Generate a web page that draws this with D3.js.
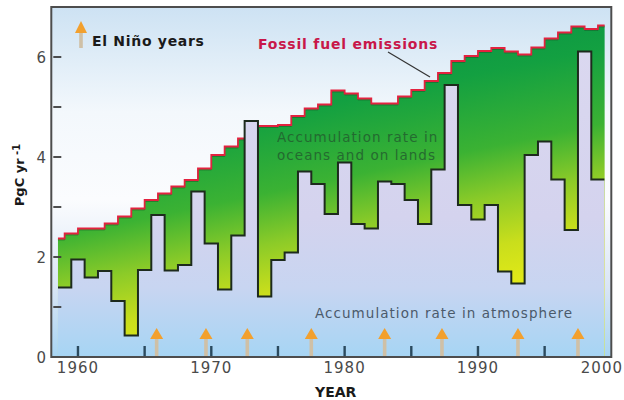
<!DOCTYPE html>
<html>
<head>
<meta charset="utf-8">
<script src="https://cdn.jsdelivr.net/npm/d3@7"></script>
<style>
  html, body { margin: 0; padding: 0; background: #ffffff; }
  svg { display: block; }
</style>
</head>
<body>
<div id="chart"></div>
<script>
// ---------------- DATA ----------------
const years = [1959,1960,1961,1962,1963,1964,1965,1966,1967,1968,1969,1970,1971,1972,1973,1974,1975,1976,1977,1978,1979,1980,1981,1982,1983,1984,1985,1986,1987,1988,1989,1990,1991,1992,1993,1994,1995,1996,1997,1998,1999];
const atmosphere = [1.39,1.95,1.59,1.72,1.12,0.43,1.74,2.84,1.73,1.84,3.31,2.27,1.35,2.43,4.72,1.21,1.94,2.09,3.71,3.46,2.86,3.89,2.66,2.57,3.51,3.46,3.14,2.66,3.75,5.44,3.04,2.75,3.04,1.71,1.47,4.04,4.31,3.55,2.54,6.11,3.55];

const fossilYears = [1958,1959,1960,1961,1962,1963,1964,1965,1966,1967,1968,1969,1970,1971,1972,1973,1974,1975,1976,1977,1978,1979,1980,1981,1982,1983,1984,1985,1986,1987,1988,1989,1990,1991,1992,1993,1994,1995,1996,1997,1998,1999];
const fossilFuel = [2.37,2.47,2.57,2.57,2.67,2.81,2.97,3.14,3.27,3.41,3.54,3.77,4.04,4.21,4.37,4.62,4.62,4.64,4.82,4.97,5.05,5.33,5.27,5.17,5.07,5.07,5.21,5.34,5.52,5.68,5.92,6.02,6.12,6.18,6.11,6.05,6.19,6.37,6.49,6.61,6.56,6.63];

const elNinoYears = [1965.9,1969.6,1972.7,1977.5,1983.0,1987.3,1993.0,1997.5];
const xTickLabels = [1960,1970,1980,1990,2000];
const xMinorTicks = [1960,1965,1970,1975,1980,1985,1990,1995];
const yTickLabels = [0,2,4,6];
const yMinorTicks = [1,2,3,4,5,6];

const texts = {
  legend: "El Niño years",
  fossil: "Fossil fuel emissions",
  oceans1: "Accumulation rate in",
  oceans2: "oceans and on lands",
  atmos: "Accumulation rate in atmosphere",
  xTitle: "YEAR",
  yTitle: "PgC yr",
  yTitleSup: " -1"
};

// ---------------- LAYOUT ----------------
const W = 624, H = 400;
const x = d3.scaleLinear().domain([1958, 2000]).range([51.3, 611.3]);
const y = d3.scaleLinear().domain([0, 7]).range([357, 7]);
const dataStart = years[0] - 0.5, dataEnd = years[years.length - 1] + 0.5;
const FONT = "'DejaVu Sans', Verdana, sans-serif";

const svg = d3.select("#chart").append("svg")
  .attr("width", W).attr("height", H)
  .attr("viewBox", `0 0 ${W} ${H}`);

const defs = svg.append("defs");

const bgGrad = defs.append("linearGradient").attr("id", "bgGrad")
  .attr("gradientUnits", "userSpaceOnUse")
  .attr("x1", 0).attr("y1", y(7)).attr("x2", 0).attr("y2", y(0));
[[0, "#cde2f3"], [0.3, "#f3f8fc"], [0.55, "#fbfcfe"], [0.8, "#d9e5f5"], [1, "#a8d5f3"]]
  .forEach(([o, c]) => bgGrad.append("stop").attr("offset", o).attr("stop-color", c));

const greenGrad = defs.append("linearGradient").attr("id", "greenGrad")
  .attr("gradientUnits", "userSpaceOnUse")
  .attr("x1", 300).attr("y1", 50).attr("x2", 360).attr("y2", 340);
[[0, "#0a9346"], [0.2, "#13a041"], [0.45, "#3bb233"], [0.62, "#8ccb28"], [0.78, "#c9de1c"], [1, "#f0f014"]]
  .forEach(([o, c]) => greenGrad.append("stop").attr("offset", o).attr("stop-color", c));

const atmGrad = defs.append("linearGradient").attr("id", "atmGrad")
  .attr("gradientUnits", "userSpaceOnUse")
  .attr("x1", 0).attr("y1", y(7)).attr("x2", 0).attr("y2", y(0));
[[0, "#dcd9f0"], [0.6, "#d4d3ee"], [0.8, "#c8d5f1"], [1, "#a6d5f4"]]
  .forEach(([o, c]) => atmGrad.append("stop").attr("offset", o).attr("stop-color", c));

defs.append("clipPath").attr("id", "dataClip")
  .append("rect")
  .attr("x", x(dataStart)).attr("y", 0)
  .attr("width", x(dataEnd) - x(dataStart)).attr("height", y(0));

// plot background
svg.append("rect")
  .attr("x", x(1958)).attr("y", y(7))
  .attr("width", x(2000) - x(1958)).attr("height", y(0) - y(7))
  .attr("fill", "url(#bgGrad)");

// ---------------- SERIES ----------------
const fossilPts = fossilYears.map((yr, i) => ({ t: yr, v: fossilFuel[i] }));
fossilPts.push({ t: fossilYears[fossilYears.length - 1] + 1, v: fossilFuel[fossilFuel.length - 1] });

const atmPts = years.map((yr, i) => ({ t: yr - 0.5, v: atmosphere[i] }));
atmPts.push({ t: years[years.length - 1] + 0.5, v: atmosphere[atmosphere.length - 1] });

const dataG = svg.append("g").attr("clip-path", "url(#dataClip)");

dataG.append("path")
  .datum(fossilPts)
  .attr("fill", "url(#greenGrad)")
  .attr("d", d3.area().curve(d3.curveStepAfter)
    .x(d => x(d.t)).y0(y(0)).y1(d => y(d.v)));

dataG.append("path")
  .datum(fossilPts)
  .attr("fill", "none")
  .attr("stroke", "#1c5a2a")
  .attr("stroke-width", 1)
  .attr("transform", "translate(0,1.4)")
  .attr("opacity", 0.6)
  .attr("d", d3.line().curve(d3.curveStepAfter).x(d => x(d.t)).y(d => y(d.v)));

dataG.append("path")
  .datum(fossilPts)
  .attr("fill", "none")
  .attr("stroke", "#e3223f")
  .attr("stroke-width", 1.8)
  .attr("d", d3.line().curve(d3.curveStepAfter).x(d => x(d.t)).y(d => y(d.v)));

dataG.append("path")
  .datum(atmPts)
  .attr("fill", "url(#atmGrad)")
  .attr("d", d3.area().curve(d3.curveStepAfter)
    .x(d => x(d.t)).y0(y(0)).y1(d => y(d.v)));

dataG.append("path")
  .datum(atmPts)
  .attr("fill", "none")
  .attr("stroke", "#1d2a1d")
  .attr("stroke-width", 2)
  .attr("d", d3.line().curve(d3.curveStepAfter).x(d => x(d.t)).y(d => y(d.v)));

// ---------------- TEXT IN PLOT ----------------
svg.append("text")
  .attr("x", 277).attr("y", 142)
  .attr("font-family", FONT).attr("font-size", 13.5).attr("letter-spacing", 1.05)
  .attr("fill", "#23602f").attr("opacity", 0.85)
  .text(texts.oceans1);
svg.append("text")
  .attr("x", 277).attr("y", 160)
  .attr("font-family", FONT).attr("font-size", 13.5).attr("letter-spacing", 1.05)
  .attr("fill", "#23602f").attr("opacity", 0.85)
  .text(texts.oceans2);

svg.append("text")
  .attr("x", 315).attr("y", 318)
  .attr("font-family", FONT).attr("font-size", 13.5).attr("letter-spacing", 1.05)
  .attr("fill", "#4b5a6b")
  .text(texts.atmos);

// fossil label + pointer
svg.append("text")
  .attr("x", 258).attr("y", 49)
  .attr("font-family", FONT).attr("font-size", 14).attr("font-weight", "bold")
  .attr("letter-spacing", 0.8)
  .attr("fill", "#c8174a")
  .text(texts.fossil);
svg.append("line")
  .attr("x1", 388).attr("y1", 52).attr("x2", 430).attr("y2", 77)
  .attr("stroke", "#333").attr("stroke-width", 1.2);

// ---------------- ARROWS ----------------
function arrow(g, cx, top, headH, headW, shaftBottom) {
  g.append("rect")
    .attr("x", cx - 1.8).attr("y", top + headH - 1)
    .attr("width", 3.6).attr("height", shaftBottom - (top + headH - 1))
    .attr("fill", "#cfc0a6");
  g.append("path")
    .attr("d", `M${cx},${top} L${cx + headW / 2},${top + headH} L${cx - headW / 2},${top + headH} Z`)
    .attr("fill", "#f2a02e");
}
const arrowsG = svg.append("g");
elNinoYears.forEach(yr => arrow(arrowsG, x(yr), 328, 11, 13, 356));

// legend
arrow(svg.append("g"), 81, 21, 12, 12, 48);
svg.append("text")
  .attr("x", 92).attr("y", 46)
  .attr("font-family", FONT).attr("font-size", 14).attr("font-weight", "bold")
  .attr("letter-spacing", 0.7)
  .attr("fill", "#1a1a1a")
  .text(texts.legend);

// ---------------- AXES ----------------
svg.append("g").selectAll("line").data(xMinorTicks).join("line")
  .attr("x1", d => x(d)).attr("x2", d => x(d))
  .attr("y1", y(0) - 11).attr("y2", y(0))
  .attr("stroke", "#2b4a5e").attr("stroke-width", 2.4);

svg.append("g").selectAll("line").data(yMinorTicks).join("line")
  .attr("x1", x(1958) + 2).attr("x2", x(1958) + 10)
  .attr("y1", d => y(d)).attr("y2", d => y(d))
  .attr("stroke", "#3a3a3a").attr("stroke-width", 1.8);

// frame
svg.append("rect")
  .attr("x", x(1958)).attr("y", y(7))
  .attr("width", x(2000) - x(1958)).attr("height", y(0) - y(7))
  .attr("fill", "none").attr("stroke", "#4d4d4d").attr("stroke-width", 2);

// x tick labels
const xl = svg.append("g").selectAll("text").data(xTickLabels).join("text")
  .attr("font-family", FONT).attr("font-size", 15).attr("letter-spacing", 1)
  .attr("fill", "#4a4a4a").attr("text-anchor", "middle")
  .attr("x", d => x(d)).attr("y", 373)
  .text(d => d);
xl.each(function () {
  const w = this.getComputedTextLength();
  const cx = +this.getAttribute("x");
  if (cx + w / 2 > W - 1) this.setAttribute("x", W - 1 - w / 2);
});

// y tick labels
svg.append("g").selectAll("text").data(yTickLabels).join("text")
  .attr("font-family", FONT).attr("font-size", 15)
  .attr("fill", "#4a4a4a").attr("text-anchor", "end")
  .attr("x", 46).attr("y", d => y(d) + 6)
  .text(d => d);

// axis titles
svg.append("text")
  .attr("x", 315).attr("y", 397)
  .attr("font-family", FONT).attr("font-size", 14).attr("font-weight", "bold")
  .attr("fill", "#1a1a1a")
  .text(texts.xTitle);

const yt = svg.append("text")
  .attr("transform", "translate(24,175) rotate(-90)")
  .attr("text-anchor", "middle")
  .attr("font-family", FONT).attr("font-size", 13).attr("font-weight", "bold")
  .attr("fill", "#1a1a1a");
yt.append("tspan").text(texts.yTitle);
yt.append("tspan").attr("dy", -4).attr("font-size", 10).text(texts.yTitleSup);
</script>
</body>
</html>
